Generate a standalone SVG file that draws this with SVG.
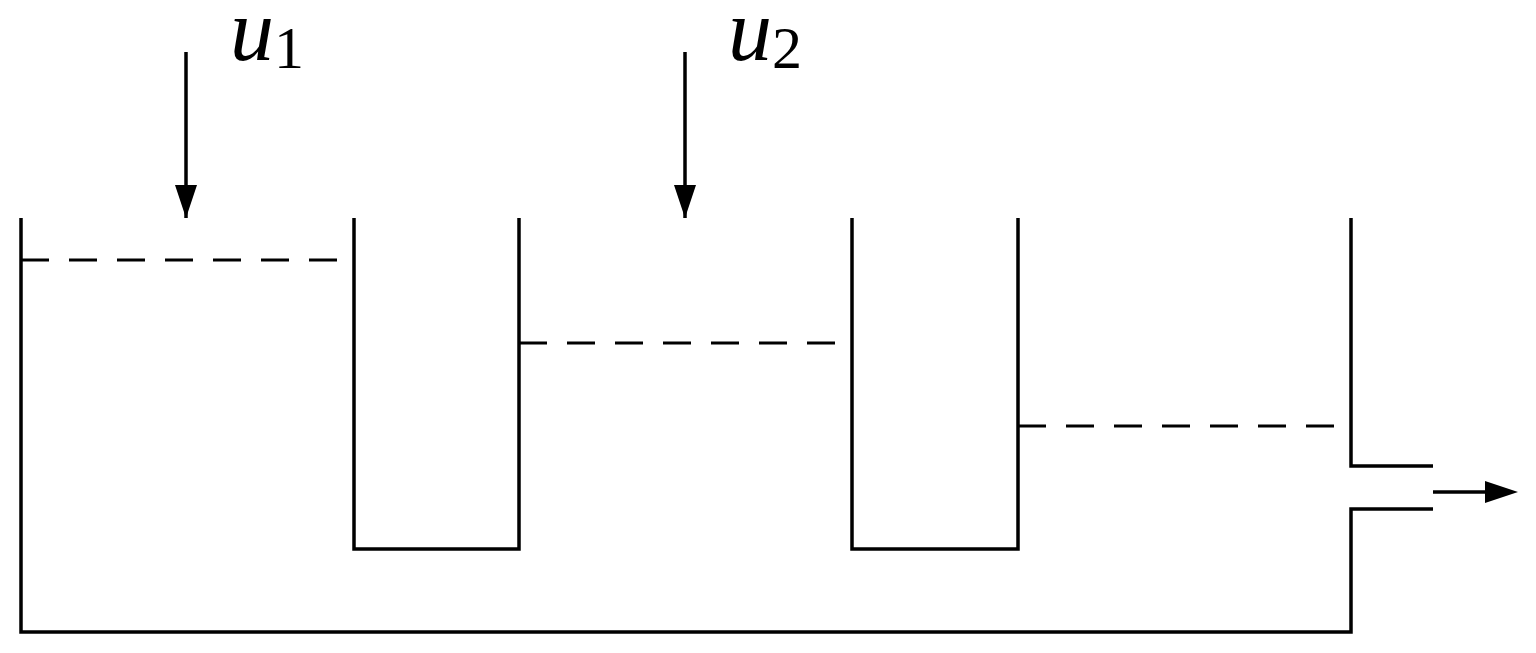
<svg xmlns="http://www.w3.org/2000/svg" width="1536" height="653" viewBox="0 0 1536 653">
<style>
.w{fill:none;stroke:#000;stroke-width:3.5}
.d{fill:none;stroke:#000;stroke-width:3;stroke-dasharray:28 20}
.t{font-family:"Liberation Serif",serif;font-style:italic;font-size:88px}
.s{font-family:"Liberation Serif",serif;font-size:60px}
</style>
<g id="tank">
<path class="w" d="M21,218V632H1351V509H1433M1351,218V466H1433"/>
<path class="w" d="M354,218V549H519V218"/>
<path class="w" d="M852,218V549H1018V218"/>
</g>
<g id="levels">
<path class="d" d="M21,260H340M519,343H838M1018,426H1338"/>
</g>
<g id="connectors">
<path class="w" d="M186,52V218"/>
<path d="M175,185H197L186,218Z"/>
<path class="w" d="M685,52V218"/>
<path d="M674,185H696L685,218Z"/>
<path class="w" d="M1433,492H1490"/>
<path d="M1485,481L1518,492L1485,503Z"/>
</g>
<g id="labels">
<text class="t" x="230" y="60">u</text><text class="s" x="274" y="68">1</text>
<text class="t" x="728" y="60">u</text><text class="s" x="772" y="68">2</text>
</g>
</svg>
